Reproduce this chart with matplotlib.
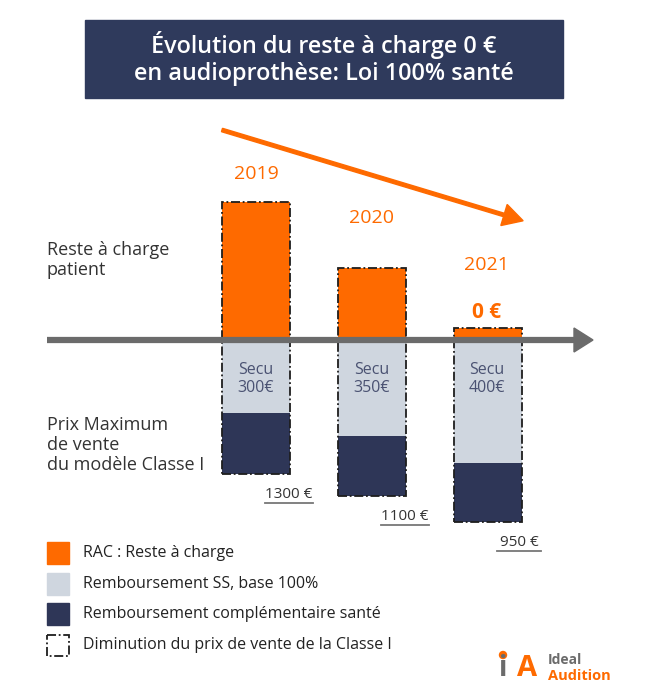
import matplotlib.pyplot as plt
from matplotlib.patches import Rectangle, FancyArrow
import numpy as np

# data (euros, bar heights: total bar height is proportional to the price)
years = ["2019", "2020", "2021"]
rac = [665, 350, 60]            # reste à charge, above the axis
secu = [355, 465, 595]          # remboursement SS (drawn height)
compl = [290, 290, 285]         # remboursement complémentaire
secu_labels = ["300€", "350€", "400€"]
prices = ["1300 €", "1100 €", "950 €"]

orange = "#fe6a00"
grey_blue = "#cfd6df"
navy = "#2e3657"

plt.rcParams['font.family'] = ["Open Sans", 'DejaVu Sans']

fig = plt.figure(figsize=(6.48, 7.0), dpi=100)

# bar axes: x = category index, y = euros (0 on the horizontal arrow)
ax = fig.add_axes([0, 0, 1, 1])
step = 115.75
ax.set_xlim(-256 / step, (648 - 256) / step)
ax.set_ylim(-360 / 0.207, 340 / 0.207)
ax.axis("off")

x = np.arange(len(years))
w = 68 / step
neg_secu = -np.array(secu)
ax.bar(x, rac, width=w, color=orange, zorder=2)
ax.bar(x, neg_secu, width=w, color=grey_blue, zorder=2)
ax.bar(x, -np.array(compl), bottom=neg_secu, width=w, color=navy, zorder=2)
# dash-dot outline of the whole price
totals = np.array(rac) + np.array(secu) + np.array(compl)
ax.bar(x, totals, bottom=-np.array(secu) - np.array(compl), width=w, fill=False,
       edgecolor="#1e1e1e", linestyle=(0, (5, 1.5, 1, 1.5)), linewidth=1.3, zorder=3)

# overlay axes in pixel units for the infographic text
ov = fig.add_axes([0, 0, 1, 1], facecolor="none")
ov.set_xlim(0, 648)
ov.set_ylim(700, 0)
ov.axis("off")

# title box
ov.add_patch(Rectangle((85, 20), 478, 78, color="#2f3a5c", zorder=1))
ov.text(324, 45, "Évolution du reste à charge 0 €", color="white", fontsize=16.8,
        fontweight="semibold", ha="center", va="center")
ov.text(324, 74, "en audioprothèse: Loi 100% santé", color="white", fontsize=16.8,
        fontweight="semibold", ha="center", va="center")

# horizontal axis arrow
ov.plot([47, 578], [340, 340], color="#6b6b6b", lw=4.5, solid_capstyle="butt", zorder=4)
ov.add_patch(plt.Polygon([[574, 328], [593, 340], [574, 352]], color="#6b6b6b", zorder=4))

# orange trend arrow
ov.add_patch(FancyArrow(222, 130, 282, 85, width=3.5, head_width=22, head_length=20,
                        length_includes_head=False, color=orange, zorder=4))

# year labels
year_pos = [(256, 174), (372, 218), (486, 265)]
for (px, py), yr in zip(year_pos, years):
    ov.text(px, py, yr, color=orange, fontsize=14, ha="center", va="center")
ov.text(487, 313, "0 €", color=orange, fontsize=15, fontweight="bold", ha="center", va="center")

# secu labels inside bars
secu_pos = [(256, 379), (372, 379), (487, 379)]
for (px, py), lab in zip(secu_pos, secu_labels):
    ov.text(px, py, "Secu\n" + lab, color="#4a5272", fontsize=11.5, ha="center", va="center",
            linespacing=1.15)

# prices with underline
price_pos = [(289, 494), (405, 516), (519, 542)]
for (px, py), lab in zip(price_pos, prices):
    ov.text(px, py, lab, color="#333333", fontsize=11, ha="center", va="center")
    half = 24 if len(lab) > 5 else 22
    ov.plot([px - half, px + half], [py + 9, py + 9], color="#777777", lw=1.3)

# left labels
ov.text(47, 260, "Reste à charge\npatient", color="#333333", fontsize=13, ha="left",
        va="center", linespacing=1.2)
ov.text(47, 445, "Prix Maximum\nde vente\ndu modèle Classe I", color="#333333", fontsize=13,
        ha="left", va="center", linespacing=1.15)

# legend
legend_items = ["RAC : Reste à charge", "Remboursement SS, base 100%",
                "Remboursement complémentaire santé", "Diminution du prix de vente de la Classe I"]
legend_colors = [orange, grey_blue, navy, None]
for i, (lab, col) in enumerate(zip(legend_items, legend_colors)):
    yy = 553 + i * 30.7
    if col is None:
        ov.add_patch(Rectangle((47, yy - 10), 22, 21, fill=False, edgecolor="#1e1e1e",
                               linestyle=(0, (5, 1.5, 1, 1.5)), lw=1.3))
    else:
        ov.add_patch(Rectangle((47, yy - 11), 22, 22, color=col))
    ov.text(83, yy, lab, color="#222222", fontsize=11.5, ha="left", va="center")

# logo
ov.text(503, 668, "i", color="#6b6b6b", fontsize=20, fontweight="bold", ha="center", va="center")
ov.add_patch(plt.Circle((503, 655), 3.5, color=orange))
ov.text(527, 668, "A", color=orange, fontsize=21, fontweight="bold", ha="center", va="center")
ov.text(548, 660, "Ideal", color="#6b6b6b", fontsize=10, fontweight="bold", ha="left", va="center")
ov.text(548, 676, "Audition", color=orange, fontsize=10.5, fontweight="bold", ha="left", va="center")

fig.savefig("out.png", dpi=100)
